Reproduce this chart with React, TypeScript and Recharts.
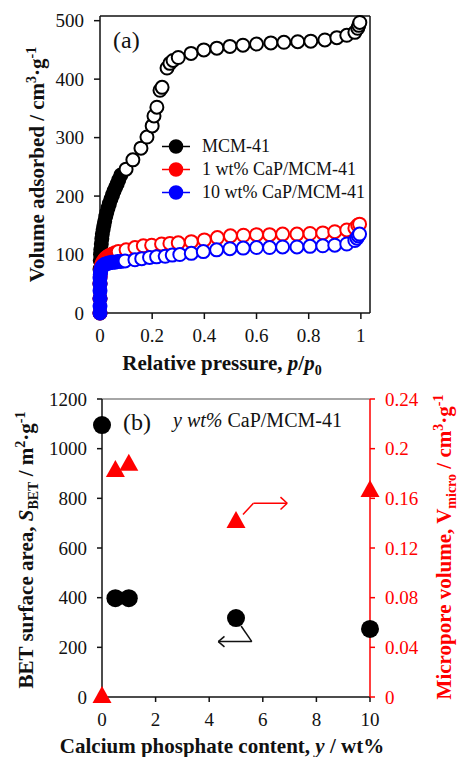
import React from 'react';
import { ScatterChart, Scatter, XAxis, YAxis, ReferenceLine, ReferenceDot, Legend, Label } from 'recharts';

const FONT = 'Liberation Serif';
const INK = '#111';

// (a) N2 isotherms, p/p0 vs volume adsorbed
const mcmP = [0, 0, 0, 0, 0.001, 0.002, 0.003, 0.005, 0.007, 0.009, 0.012, 0.015, 0.018, 0.022, 0.026, 0.031, 0.036, 0.042, 0.048, 0.054, 0.06, 0.066, 0.072, 0.08,
  0.1, 0.126, 0.157, 0.18, 0.2, 0.207, 0.218, 0.23, 0.238, 0.257, 0.268, 0.28, 0.3, 0.349, 0.398, 0.448, 0.498, 0.548, 0.6, 0.655, 0.705, 0.758, 0.808, 0.862, 0.908, 0.946, 0.977, 0.988, 0.992, 0.996];
const mcmV = [0, 25, 50, 75, 90, 100, 108, 118, 127, 135, 143, 150, 157, 165, 172, 180, 187, 195, 202, 209, 215, 221, 228, 236,
  246, 262, 282, 301, 320, 337, 352, 381, 386, 419, 427, 432, 437, 444, 450, 453, 456, 458, 460, 462, 463, 464, 465, 467, 471, 475, 480, 487, 492, 497];

const cap1P = [0, 0, 0, 0.001, 0.002, 0.004, 0.006, 0.009, 0.013, 0.018, 0.024, 0.031, 0.039, 0.048, 0.058,
  0.07, 0.1, 0.134, 0.166, 0.198, 0.236, 0.268, 0.3, 0.35, 0.4, 0.45, 0.5, 0.55, 0.6, 0.65, 0.7, 0.755, 0.805, 0.854, 0.9, 0.946, 0.977, 0.988, 0.995];
const cap1V = [0, 25, 50, 62, 70, 77, 82, 86, 89, 92, 95, 97, 99, 101, 103,
  105, 108, 112, 115, 116, 118, 119, 120, 122, 125, 129, 132, 133, 134, 134, 135, 135, 136, 137, 139, 142, 145, 150, 152];

const cap10P = [0, 0, 0, 0, 0, 0, 0.001, 0.002, 0.003, 0.005, 0.008, 0.012, 0.017, 0.023, 0.03, 0.038, 0.047, 0.057, 0.068, 0.08,
  0.096, 0.134, 0.16, 0.19, 0.217, 0.25, 0.277, 0.306, 0.35, 0.396, 0.447, 0.498, 0.549, 0.6, 0.65, 0.7, 0.755, 0.805, 0.854, 0.9, 0.946, 0.977, 0.985, 0.99, 0.995];
const cap10V = [0, 12, 25, 38, 50, 60, 66, 70, 73, 76, 79, 81, 83, 84, 85, 86, 87, 87, 88, 88,
  89, 91, 93, 95, 96, 97, 99, 100, 102, 105, 108, 110, 111, 112, 112, 113, 113, 114, 115, 116, 118, 124, 128, 132, 135];

const isoNames = ['MCM-41', '1 wt% CaP/MCM-41', '10 wt% CaP/MCM-41'];
const isoColors = ['#000000', '#ff0000', '#0000ff'];
const pTicks = [0, 0.2, 0.4, 0.6, 0.8, 1];
const vTicks = [0, 100, 200, 300, 400, 500];

// (b) BET area and micropore volume vs CaP loading
const loading = [0, 0.5, 1, 5, 10];
const sBet = [1095, 398, 398, 318, 274];
const vMicro = [0, 0.182, 0.187, 0.141, 0.166];
const loadTicks = [0, 2, 4, 6, 8, 10];
const sTicks = [0, 200, 400, 600, 800, 1000, 1200];
const vmTicks = [0, 0.04, 0.08, 0.12, 0.16, 0.2, 0.24];

// arrow paths (data units)
const arrowS = [{ c: 5.19, s: 286 }, { c: 5.59, s: 223 }, { c: 4.34, s: 223 }];
const arrowSHead = [{ c: 4.57, s: 244 }, { c: 4.34, s: 223 }, { c: 4.57, s: 202 }];
const arrowV = [{ c: 5.26, vm: 0.147 }, { c: 5.65, vm: 0.156 }, { c: 6.91, vm: 0.156 }];
const arrowVHead = [{ c: 6.66, vm: 0.161 }, { c: 6.91, vm: 0.156 }, { c: 6.66, vm: 0.151 }];

const zip = (ps: number[], vs: number[]) => ps.map((p, i) => ({ p, v: vs[i] }));
const isoData = [zip(mcmP, mcmV), zip(cap1P, cap1V), zip(cap10P, cap10V)];
const isoCut = [0.09, 0.065, 0.09];

const surfData = loading.map((c, i) => ({ c, s: sBet[i] }));
const microData = loading.map((c, i) => ({ c, vm: vMicro[i] }));

const openCircle = (color: string, cut: number) => (props: any) => {
  const filled = props.payload && props.payload.p < cut;
  return <circle cx={props.cx} cy={props.cy} r={6.5} fill={filled ? color : '#fff'} stroke={color} strokeWidth={2} />;
};

const bigDot = (props: any) => <circle cx={props.cx} cy={props.cy} r={9} fill="#000" />;
const triangle = (props: any) => {
  const { cx, cy } = props;
  return <polygon points={`${cx},${cy - 11} ${cx - 9.5},${cy + 6} ${cx + 9.5},${cy + 6}`} fill="#ff0000" />;
};

const tickStyle = { fontSize: 19, fill: INK, fontFamily: FONT };
const titleProps = { fontFamily: FONT, fontWeight: 'bold' as const, fontSize: 21 };

// pairs of consecutive points -> segments
const segs = (pts: { c: number; [k: string]: number }[], key: string) =>
  pts.slice(1).map((pt, i) => [{ x: pts[i].c, y: pts[i][key] }, { x: pt.c, y: pt[key] }]);

const XTitleA = (props: any) => {
  const { x, y, width } = props.viewBox;
  return (
    <text x={x + width / 2 - 13} y={y + 57} textAnchor="middle" fill={INK} {...titleProps}>
      Relative pressure, <tspan fontStyle="italic">p</tspan>/<tspan fontStyle="italic">p</tspan>
      <tspan dy={5} fontSize={14}>0</tspan>
    </text>
  );
};

const YTitleA = (props: any) => {
  const { x, y, height } = props.viewBox;
  const tx = x + 4;
  const ty = y + height / 2;
  return (
    <text x={tx} y={ty} transform={`rotate(-90, ${tx}, ${ty})`} textAnchor="middle" fill={INK} {...titleProps}>
      Volume adsorbed / cm<tspan dy={-8} fontSize={14}>3</tspan>
      <tspan dy={8}>·g</tspan>
      <tspan dy={-8} fontSize={14}>-1</tspan>
    </text>
  );
};

const XTitleB = (props: any) => {
  const { x, y, width } = props.viewBox;
  return (
    <text x={x + width / 2 - 14} y={y + 56} textAnchor="middle" fill={INK} {...titleProps}>
      Calcium phosphate content, <tspan fontStyle="italic">y</tspan> / wt%
    </text>
  );
};

const YTitleB = (props: any) => {
  const { x, y, height } = props.viewBox;
  const tx = x - 9;
  const ty = y + height / 2 + 2;
  return (
    <text x={tx} y={ty} transform={`rotate(-90, ${tx}, ${ty})`} textAnchor="middle" fill={INK} {...titleProps}>
      BET surface area, <tspan fontStyle="italic">S</tspan>
      <tspan dy={5} fontSize={14}>BET</tspan>
      <tspan dy={-5}> / m</tspan>
      <tspan dy={-8} fontSize={14}>2</tspan>
      <tspan dy={8}>·g</tspan>
      <tspan dy={-8} fontSize={14}>-1</tspan>
    </text>
  );
};

const YTitleB2 = (props: any) => {
  const { x, y, height } = props.viewBox;
  const tx = x + 81;
  const ty = y + height / 2 - 1;
  return (
    <text x={tx} y={ty} transform={`rotate(-90, ${tx}, ${ty})`} textAnchor="middle" fill="#ff0000" {...titleProps}>
      Micropore volume, V<tspan dy={5} fontSize={14}>micro</tspan>
      <tspan dy={-5}> / cm</tspan>
      <tspan dy={-8} fontSize={14}>3</tspan>
      <tspan dy={8}>·g</tspan>
      <tspan dy={-8} fontSize={14}>-1</tspan>
    </text>
  );
};

const TextAt = (txt: React.ReactNode, size: number) => (props: any) => {
  const { x, y, width, height } = props.viewBox;
  return (
    <text x={x + width / 2} y={y + height / 2} fontFamily={FONT} fontSize={size} fill={INK}>
      {txt}
    </text>
  );
};

const renderLegendA = () => (
  <div style={{ fontFamily: FONT, fontSize: 18, color: INK, lineHeight: '23px' }}>
    {isoNames.map((n, i) => (
      <div key={n} style={{ display: 'flex', alignItems: 'center', height: 23, whiteSpace: 'nowrap' }}>
        <svg width={42} height={23}>
          <line x1={2} x2={30} y1={11.5} y2={11.5} stroke={isoColors[i]} strokeWidth={1.5} />
          <circle cx={16} cy={11.5} r={6.5} fill={isoColors[i]} stroke={isoColors[i]} strokeWidth={1.5} />
        </svg>
        <span>{n}</span>
      </div>
    ))}
  </div>
);

export default function App() {
  return (
    <div className="fig" style={{ position: 'absolute', left: 0, top: 0, width: 460, height: 757, background: '#fff', fontFamily: FONT }}>
      <style>{`.fig text, .fig tspan { font-family: "Liberation Serif", serif !important; }`}</style>
      <ScatterChart width={460} height={385} margin={{ top: 16, right: 90, bottom: 42, left: 40 }} style={{ fontFamily: FONT }}>
        <XAxis type="number" dataKey="p" domain={[0, 1.035]} ticks={pTicks} height={30}
          tick={tickStyle} tickSize={6} tickMargin={10} stroke={INK} strokeWidth={1.5}>
          <Label content={XTitleA} />
        </XAxis>
        <YAxis type="number" dataKey="v" domain={[0, 508]} ticks={vTicks} width={60}
          tick={tickStyle} tickSize={6} tickMargin={10} stroke={INK} strokeWidth={1.5}>
          <Label content={YTitleA} />
        </YAxis>
        <ReferenceLine y={508} stroke={INK} strokeWidth={1.5} ifOverflow="visible" />
        <ReferenceLine x={1.035} stroke={INK} strokeWidth={1.5} ifOverflow="visible" />
        {isoData.map((d, i) => (
          <Scatter key={isoNames[i]} name={isoNames[i]} data={d} fill={isoColors[i]}
            shape={openCircle(isoColors[i], isoCut[i])} isAnimationActive={false} />
        ))}
        <ReferenceDot x={0.05} y={453} r={1} fill="none" stroke="none" ifOverflow="visible"
          label={<Label content={TextAt('(a)', 24)} />} />
        <Legend layout="vertical" align="center" verticalAlign="middle" content={renderLegendA}
          wrapperStyle={{ left: 160, top: 135, width: 'auto', height: 'auto' }} />
      </ScatterChart>

      <ScatterChart width={460} height={372} margin={{ top: 14, right: 30, bottom: 30, left: 42 }} style={{ fontFamily: FONT }}>
        <XAxis type="number" dataKey="c" domain={[0, 10]} ticks={loadTicks} height={30}
          tick={tickStyle} tickSize={5} tickMargin={11} stroke={INK} strokeWidth={1.5}>
          <Label content={XTitleB} />
        </XAxis>
        <YAxis yAxisId="left" type="number" dataKey="s" domain={[0, 1200]} ticks={sTicks} width={60}
          tick={tickStyle} tickSize={5} tickMargin={10} stroke={INK} strokeWidth={1.5}>
          <Label content={YTitleB} />
        </YAxis>
        <YAxis yAxisId="right" orientation="right" type="number" dataKey="vm" domain={[0, 0.24]} ticks={vmTicks} width={60}
          tick={{ ...tickStyle, fill: '#ff0000' }} tickSize={5} tickMargin={10} stroke="#ff0000" strokeWidth={1.5}>
          <Label content={YTitleB2} />
        </YAxis>
        <ReferenceLine yAxisId="left" y={1200} stroke="#888" strokeWidth={1.5} ifOverflow="visible" />
        {segs(arrowS, 's').concat(segs(arrowSHead, 's')).map((sg, k) => (
          <ReferenceLine key={'s' + k} yAxisId="left" ifOverflow="visible" stroke={INK} strokeWidth={1.5} segment={sg} />
        ))}
        {segs(arrowV, 'vm').concat(segs(arrowVHead, 'vm')).map((sg, k) => (
          <ReferenceLine key={'v' + k} yAxisId="right" ifOverflow="visible" stroke="#ff0000" strokeWidth={1.5} segment={sg} />
        ))}
        <Scatter yAxisId="left" data={surfData} fill="#000" shape={bigDot} isAnimationActive={false} />
        <Scatter yAxisId="right" data={microData} fill="#ff0000" shape={triangle} isAnimationActive={false} />
        <ReferenceDot yAxisId="left" x={0.78} y={1075} r={1} fill="none" stroke="none" ifOverflow="visible"
          label={<Label content={TextAt('(b)', 24)} />} />
        <ReferenceDot yAxisId="left" x={2.65} y={1087} r={1} fill="none" stroke="none" ifOverflow="visible"
          label={<Label content={TextAt(<><tspan fontStyle="italic">y wt%</tspan> CaP/MCM-41</>, 20)} />} />
      </ScatterChart>
    </div>
  );
}
